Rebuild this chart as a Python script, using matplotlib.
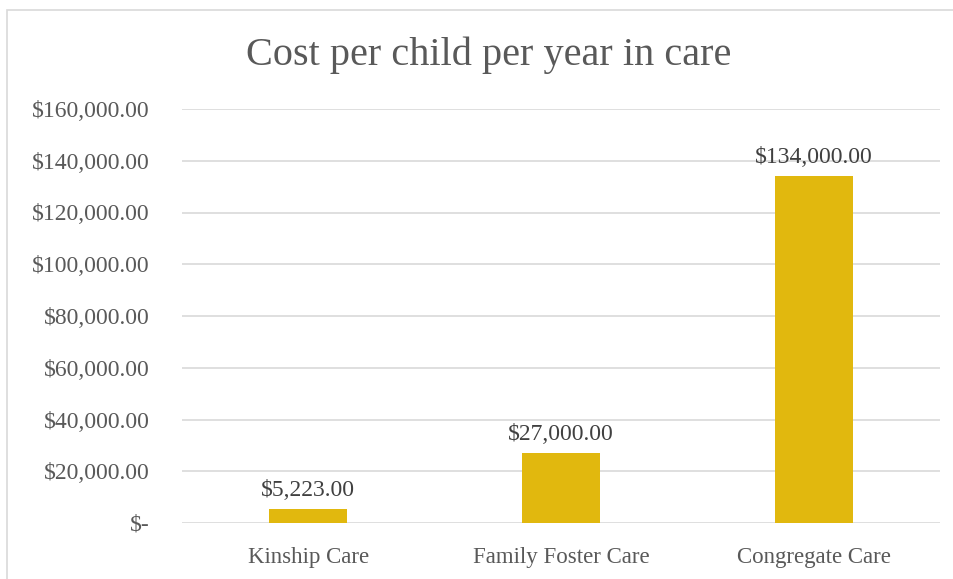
import matplotlib.pyplot as plt
from matplotlib.patches import Rectangle

# Data
categories = ["Kinship Care", "Family Foster Care", "Congregate Care"]
costs = [5223, 27000, 134000]
yticks = [0, 20000, 40000, 60000, 80000, 100000, 120000, 140000, 160000]

text_color = "#595959"
bar_color = "#E1B80E"
grid_color = "#D9D9D9"
plt.rcParams['font.family'] = ['Liberation Serif', 'DejaVu Serif']

fig = plt.figure(figsize=(9.54, 5.79), dpi=100)
ax = fig.add_axes([182/954, 1 - 523/579, (940 - 182)/954, (523 - 109)/579])

x = range(len(categories))
ax.bar(x, costs, width=0.31, color=bar_color, zorder=3)

for xi, v in zip(x, costs):
    ax.text(xi, v + 3300, f"${v:,.2f}", ha="center", va="bottom",
            fontsize=17, color="#404040")

def fmt(v):
    return "$-" if v == 0 else f"${v:,.2f}"

ax.set_ylim(0, 160000)
ax.set_xlim(-0.5, 2.5)
ax.set_yticks(yticks)
ax.set_yticklabels([fmt(v) for v in yticks])
ax.set_xticks(list(x))
ax.set_xticklabels(categories)
ax.tick_params(axis="y", length=0, labelsize=17, colors=text_color, pad=23)
ax.tick_params(axis="x", length=0, labelsize=16.5, colors=text_color, pad=17)
ax.yaxis.grid(True, color=grid_color, linewidth=1.2, zorder=0)
for s in ax.spines.values():
    s.set_visible(False)

fig.text(489/954, 1 - 55/579, "Cost per child per year in care",
         ha="center", va="center", fontsize=29, color=text_color)

# chart frame
fig.patches.append(Rectangle((7/954, -0.05), 1.1, 1 - 10/579 + 0.05,
                             transform=fig.transFigure, fill=False,
                             edgecolor=grid_color, linewidth=1.2))

fig.savefig("out.png", dpi=100)
